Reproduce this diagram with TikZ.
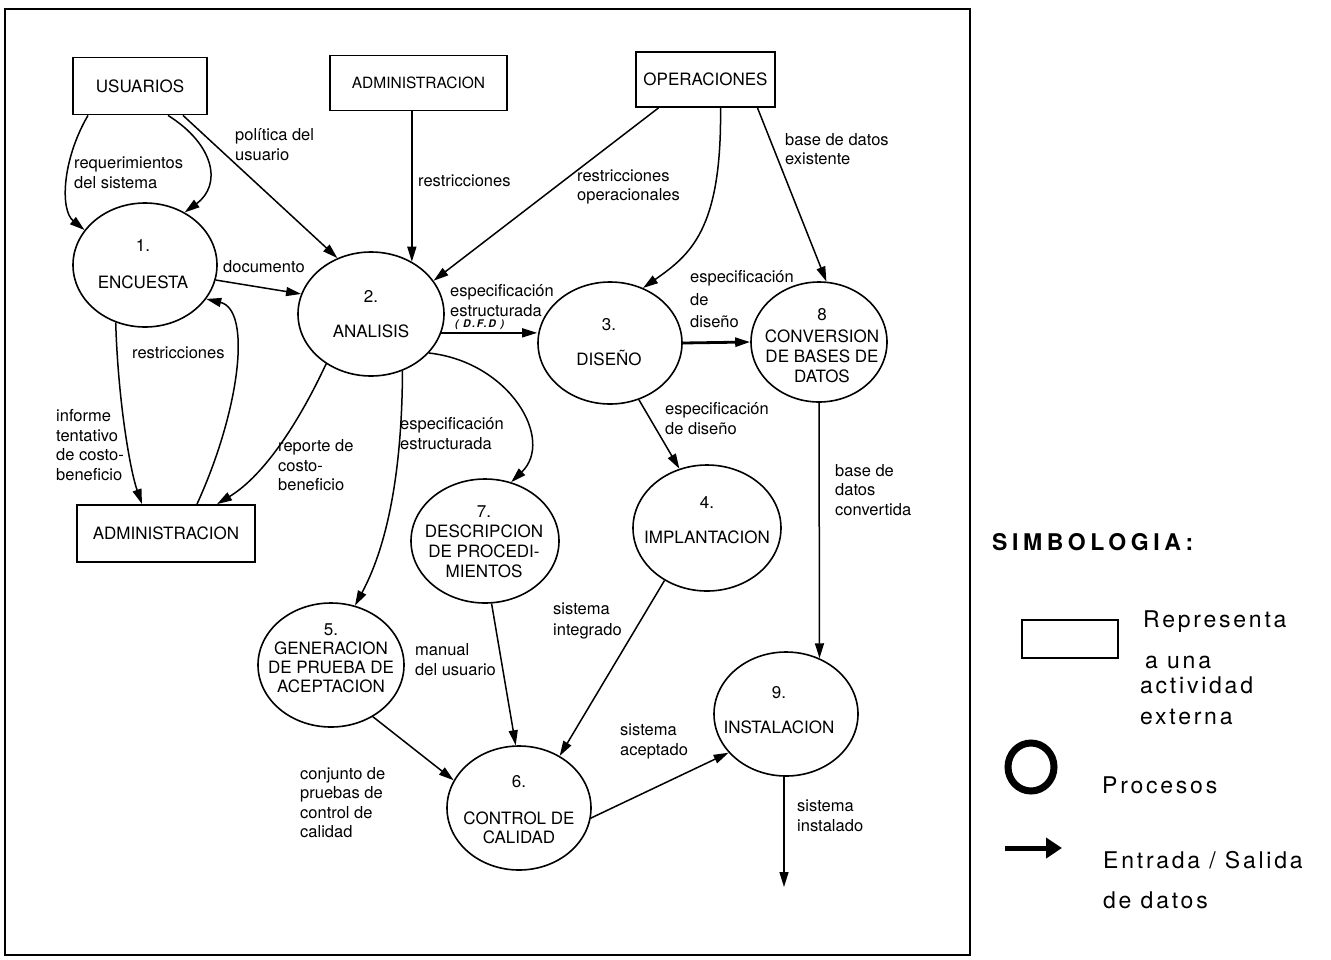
\documentclass[tikz,border=0pt]{standalone}
\usepackage{fontspec}
\setmainfont{TeX Gyre Heros}
\newfontfamily\dfdlegendfam[LetterSpace=12]{TeX Gyre Heros}
\newfontfamily\dfdtitlefam[LetterSpace=20]{TeX Gyre Heros}
\newfontfamily\dfdsmallfam[LetterSpace=15]{TeX Gyre Heros}
\usetikzlibrary{shapes.geometric,arrows.meta,calc}

\newcommand{\dfdnodefont}{\fontsize{17}{20}\selectfont}
\newcommand{\dfdlblfont}{\fontsize{16.5}{19.5}\selectfont}
\newcommand{\dfdlegfont}{\dfdlegendfam\fontsize{23}{27}\selectfont}

\tikzset{
  ent/.style={draw, line width=1.8pt, inner sep=0pt, font=\dfdnodefont},
  proc/.style={draw, ellipse, line width=1.6pt, inner sep=0pt},
  ptext/.style={align=center, inner sep=0pt, font=\dfdnodefont},
  lbl/.style={anchor=west, align=left, inner sep=0pt, font=\dfdlblfont},
  dfdtag/.style={anchor=west, inner sep=0pt, font=\dfdsmallfam\fontsize{10.5}{12}\selectfont\bfseries\itshape},
  flow/.style={line width=1.5pt, -{Triangle[length=15pt,width=9pt]}},
  legtext/.style={anchor=west, inner sep=0pt, font=\dfdlegfont},
}

\begin{document}
\begin{tikzpicture}[x=1pt,y=-1pt]
\useasboundingbox (0,0) rectangle (1331,959);

% outer frame of the diagram
\draw[line width=2pt] (5,9) rectangle (970,955);

% external entities
\node[ent, minimum width=134pt, minimum height=57pt] (usu) at (140,86) {USUARIOS};
\node[ent, minimum width=177pt, minimum height=55pt, font=\fontsize{15.5}{18}\selectfont] (adm1) at (418.5,83) {ADMINISTRACION};
\node[ent, minimum width=139pt, minimum height=55pt] (ope) at (705.5,79.5) {OPERACIONES};
\node[ent, minimum width=178pt, minimum height=57pt] (adm2) at (166,533.5) {ADMINISTRACION};

% processes
\node[proc, minimum width=144pt, minimum height=124pt] (c1) at (145,265) {};
\node[proc, minimum width=146pt, minimum height=124pt] (c2) at (371,314) {};
\node[proc, minimum width=144pt, minimum height=122pt] (c3) at (610,343) {};
\node[proc, minimum width=136pt, minimum height=120pt] (c8) at (819,342) {};
\node[proc, minimum width=148pt, minimum height=126pt] (c4) at (707,528) {};
\node[proc, minimum width=148pt, minimum height=124pt] (c7) at (485,541) {};
\node[proc, minimum width=146pt, minimum height=124pt] (c5) at (331,665) {};
\node[proc, minimum width=144pt, minimum height=124pt] (c6) at (519,808) {};
\node[proc, minimum width=144pt, minimum height=124pt] (c9) at (786,714) {};

\node[ptext] (t1) at (143,264) {1.\\[17pt]ENCUESTA};
\node[ptext] (t2) at (371,314) {2.\\[15pt]ANALISIS};
\node[ptext] (t3) at (609,342) {3.\\[15pt]DISEÑO};
\node[ptext] (t8) at (822,346) {8\\[2pt]CONVERSION\\DE BASES DE\\DATOS};
\node[ptext] (t4) at (707,520) {4.\\[15pt]IMPLANTACION};
\node[ptext] (t7) at (484,542) {7.\\DESCRIPCION\\DE PROCEDI-\\MIENTOS};
\node[ptext] (t5) at (331,658) {5.\\[-1pt]GENERACION\\[-1pt]DE PRUEBA DE\\[-1pt]ACEPTACION};
\node[ptext] (t6) at (519,810) {6.\\[17pt]CONTROL DE\\[-1pt]CALIDAD};
\node[ptext] (t9) at (779,710) {9.\\[15pt]INSTALACION};

% data flows
\draw[flow] ($(usu.south)+(-52,0)$) .. controls (62,160) and (60,210) .. (c1.150);
\draw[flow] ($(usu.south)+(28,0)$) .. controls (215,145) and (222,185) .. (c1.53);
\draw[flow] ($(usu.south)+(43,0)$) -- (c2.121);
\draw[flow] (c2.52 |- adm1.south) -- (c2.52);
\draw[flow] ($(ope.south)+(-47,0)$) -- (c2.28);
\draw[flow] ($(ope.south)+(15,0)$) .. controls (722,230) and (690,255) .. (c3.59);
\draw[flow] ($(ope.south)+(52,0)$) -- (c8.83);
\draw[flow] (c1.-12) -- (c2.164);
\draw[flow] (c2.-15) -- (c2.-15 -| c3.west);
\draw[flow, line width=2.8pt] (c3.east) -- (c8.west);
\draw[flow] (c1.243) .. controls (118,400) and (130,470) .. ($(adm2.north)+(-24,0)$);
\draw[flow] ($(adm2.north)+(31,0)$) .. controls (240,410) and (252,310) .. (c1.331);
\draw[flow] (c2.228) .. controls (300,420) and (265,475) .. ($(adm2.north)+(51,0)$);
\draw[flow] (c2.299) .. controls (402,480) and (385,550) .. (c5.68);
\draw[flow] (c2.326) .. controls (510,362) and (555,440) .. (c7.66);
\draw[flow] (c3.297) -- (c4.115);
\draw[flow] (c8.south) -- (c9.59);
\draw[flow] (c4.231) -- (c6.52);
\draw[flow] (c7.276) -- (c6.93);
\draw[flow] (c5.309) -- (c6.157);
\draw[flow] (c6.352) -- (c9.214);
\coordinate (fin) at (784,887);
\draw[flow] (c9.south -| fin) -- (fin);

% flow labels
\node[lbl] (lreq) at (74,173) {requerimientos\\del sistema};
\node[lbl] (lpol) at (235,144.5) {política del\\usuario};
\node[lbl] (lres1) at (418,181) {restricciones};
\node[lbl] (lresop) at (577,187) {restricciones\\operacionales};
\node[lbl] (lbase) at (785,149) {base de datos\\existente};
\node[lbl] (ldoc) at (223,267) {documento};
\node[lbl] (lest) at (450,300.5) {especificación\\estructurada};
\node[dfdtag] (ldfd) at (455,324.5) {( D.F.D )};
\node[lbl] (ldis) at (690,299.5) {especificación\\[3pt]de\\[3pt]diseño};
\node[lbl] (lres2) at (132,353) {restricciones};
\node[lbl] (linf) at (56,445) {informe\\tentativo\\de costo-\\beneficio};
\node[lbl] (lrep) at (278,465.5) {reporte de\\costo-\\beneficio};
\node[lbl] (lest2) at (400,433.5) {especificación\\estructurada};
\node[lbl] (ldis2) at (665,418.5) {especificación\\de diseño};
\node[lbl] (lbdc) at (835,490) {base de\\datos\\convertida};
\node[lbl] (lsint) at (553,621) {sistema\\[2pt]integrado};
\node[lbl] (lman) at (415,659.5) {manual\\del usuario};
\node[lbl] (lconj) at (300,802.5) {conjunto de\\pruebas de\\control de\\calidad};
\node[lbl] (lsac) at (620,741.5) {sistema\\aceptado};
\node[lbl] (lsins) at (797,816) {sistema\\instalado};

% legend
\node[anchor=west, inner sep=0pt, font=\dfdtitlefam\fontsize{23}{27}\selectfont\bfseries] (legtitle) at (992,542) {SIMBOLOGIA:};
\node[draw, line width=1.8pt, minimum width=96pt, minimum height=38pt, inner sep=0pt] (legbox) at (1070,639) {};
\node[legtext] (leg1) at (1143,622) {Representa};
\node[legtext] (leg2) at (1145,662) {a una};
\node[legtext] (leg3) at (1140,685) {actividad};
\node[legtext] (leg4) at (1140,717) {externa};
\node[draw, ellipse, line width=7pt, minimum width=46pt, minimum height=48pt, inner sep=0pt] (legproc) at (1031,767) {};
\node[legtext] (leg5) at (1102,785) {Procesos};
\coordinate (legA) at (1005,848);
\coordinate (legB) at (1062,848);
\draw[line width=5pt, -{Triangle[length=16pt,width=20pt]}] (legA) -- (legB);
\node[legtext] (leg6) at (1103,860) {Entrada / Salida};
\node[legtext] (leg7) at (1103,900) {de datos};
\end{tikzpicture}
\end{document}
